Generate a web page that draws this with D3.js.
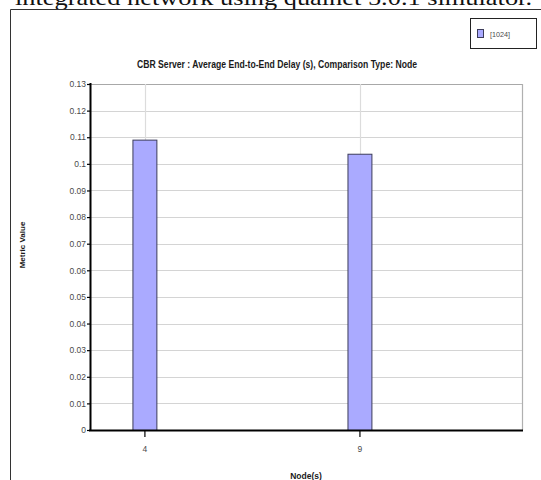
<!DOCTYPE html>
<html>
<head>
<meta charset="utf-8">
<script src="https://cdn.jsdelivr.net/npm/d3@7"></script>
<style>
  html, body { margin: 0; padding: 0; background: #fff; overflow: hidden; }
  svg { display: block; }
</style>
</head>
<body>
<script>
// Data: average end-to-end delay per node
const categories = ["4", "9"];
const seriesName = "[1024]";
const delayValues = [0.1091, 0.1038];
const yTickValues = [0, 0.01, 0.02, 0.03, 0.04, 0.05, 0.06, 0.07, 0.08, 0.09, 0.1, 0.11, 0.12, 0.13];
const yTickLabels = ["0", "0.01", "0.02", "0.03", "0.04", "0.05", "0.06", "0.07", "0.08", "0.09", "0.1", "0.11", "0.12", "0.13"];

const W = 541, H = 480;
const plot = { left: 90, right: 522, top: 84, bottom: 430 };

const svg = d3.select("body").append("svg")
  .attr("width", W).attr("height", H);

// Caption line above the frame (partly cut off at the top)
svg.append("text")
  .attr("x", 15).attr("y", 5)
  .attr("font-family", "'Liberation Serif', 'Times New Roman', serif")
  .attr("font-size", 21)
  .attr("fill", "#111")
  .attr("textLength", 517)
  .attr("lengthAdjust", "spacingAndGlyphs")
  .text("integrated network using qualnet 5.0.1 simulator.");

// Outer frame
svg.append("path")
  .attr("d", `M10.5,${H} V9.5 H${W}`)
  .attr("fill", "none").attr("stroke", "#333").attr("stroke-width", 1);

// Scales
const x = d3.scaleBand()
  .domain(categories)
  .range([plot.left, plot.right])
  .paddingInner(0.884)
  .paddingOuter(0.4465)
  .align(0.221);

const y = d3.scaleLinear()
  .domain([0, 0.13])
  .range([plot.bottom, plot.top]);

// Horizontal grid
svg.append("g").selectAll("line")
  .data(yTickValues.filter(v => v > 0))
  .join("line")
  .attr("x1", plot.left).attr("x2", plot.right)
  .attr("y1", d => Math.round(y(d)) + 0.5).attr("y2", d => Math.round(y(d)) + 0.5)
  .attr("stroke", (d, i, a) => i === a.length - 1 ? "#a8a8a8" : "#d4d4d4")
  .attr("stroke-width", 1.2);

// Vertical grid at category centres and right edge
svg.append("g").selectAll("line")
  .data(categories)
  .join("line")
  .attr("x1", d => Math.round(x(d) + x.bandwidth() / 2) + 0.5)
  .attr("x2", d => Math.round(x(d) + x.bandwidth() / 2) + 0.5)
  .attr("y1", plot.top).attr("y2", plot.bottom)
  .attr("stroke", "#dcdcdc").attr("stroke-width", 1.2);

svg.append("line")
  .attr("x1", plot.right + 0.5).attr("x2", plot.right + 0.5)
  .attr("y1", plot.top).attr("y2", plot.bottom)
  .attr("stroke", "#b0b0b0").attr("stroke-width", 1.2);

// Bars
svg.append("g").selectAll("rect")
  .data(delayValues)
  .join("rect")
  .attr("x", (d, i) => x(categories[i]) + 0.5)
  .attr("y", d => y(d) + 0.5)
  .attr("width", x.bandwidth() - 1)
  .attr("height", d => plot.bottom - y(d))
  .attr("fill", "#aaaaff")
  .attr("stroke", "#3c3c5a")
  .attr("stroke-width", 1);

// Y axis
const yAxis = d3.axisLeft(y)
  .tickValues(yTickValues)
  .tickSize(3)
  .tickPadding(1)
  .tickFormat((d, i) => yTickLabels[i]);

const gy = svg.append("g")
  .attr("transform", `translate(${plot.left},0)`)
  .call(yAxis);
gy.select(".domain").remove();
gy.selectAll(".tick line").attr("stroke", "#000").attr("stroke-width", 1.2);
gy.selectAll(".tick text")
  .attr("font-family", "'Liberation Sans', Arial, sans-serif")
  .attr("font-size", 8.5)
  .attr("fill", "#4a4a4a");
svg.append("line")
  .attr("x1", plot.left + 0.5).attr("x2", plot.left + 0.5)
  .attr("y1", plot.top - 1).attr("y2", plot.bottom + 1)
  .attr("stroke", "#000").attr("stroke-width", 2);

// X axis
const xAxis = d3.axisBottom(x)
  .tickSize(6)
  .tickPadding(9);
const gx = svg.append("g")
  .attr("transform", `translate(0,${plot.bottom + 1})`)
  .call(xAxis);
gx.select(".domain").remove();
gx.selectAll(".tick line").attr("stroke", "#000").attr("stroke-width", 1.2);
gx.selectAll(".tick text")
  .attr("font-family", "'Liberation Sans', Arial, sans-serif")
  .attr("font-size", 8.5)
  .attr("fill", "#4a4a4a");
svg.append("line")
  .attr("x1", plot.left - 1).attr("x2", plot.right + 1)
  .attr("y1", plot.bottom + 0.5).attr("y2", plot.bottom + 0.5)
  .attr("stroke", "#000").attr("stroke-width", 2);

// Chart title
svg.append("text")
  .attr("x", 277).attr("y", 68)
  .attr("text-anchor", "middle")
  .attr("font-family", "'Liberation Sans', Arial, sans-serif")
  .attr("font-size", 10)
  .attr("font-weight", "bold")
  .attr("fill", "#1a1a1a")
  .attr("textLength", 280)
  .attr("lengthAdjust", "spacingAndGlyphs")
  .text("CBR Server :  Average End-to-End Delay (s), Comparison Type: Node");

// Axis titles
svg.append("text")
  .attr("transform", "translate(25,245) rotate(-90)")
  .attr("text-anchor", "middle")
  .attr("font-family", "'Liberation Sans', Arial, sans-serif")
  .attr("font-size", 8)
  .attr("font-weight", "bold")
  .attr("fill", "#1a1a1a")
  .text("Metric Value");

svg.append("text")
  .attr("x", 306).attr("y", 479)
  .attr("text-anchor", "middle")
  .attr("font-family", "'Liberation Sans', Arial, sans-serif")
  .attr("font-size", 8.5)
  .attr("font-weight", "bold")
  .attr("fill", "#1a1a1a")
  .text("Node(s)");

// Legend
const legend = svg.append("g");
legend.append("rect")
  .attr("x", 470.5).attr("y", 18.5)
  .attr("width", 66).attr("height", 30)
  .attr("fill", "#fff")
  .attr("stroke", "#222").attr("stroke-width", 1);
legend.append("rect")
  .attr("x", 477.5).attr("y", 29.5)
  .attr("width", 6).attr("height", 8)
  .attr("fill", "#aaaaff")
  .attr("stroke", "#3c3c5a").attr("stroke-width", 1);
legend.append("text")
  .attr("x", 490).attr("y", 37)
  .attr("font-family", "'Liberation Sans', Arial, sans-serif")
  .attr("font-size", 8)
  .attr("fill", "#4a4a4a")
  .attr("textLength", 20)
  .attr("lengthAdjust", "spacingAndGlyphs")
  .text(seriesName);
</script>
</body>
</html>
